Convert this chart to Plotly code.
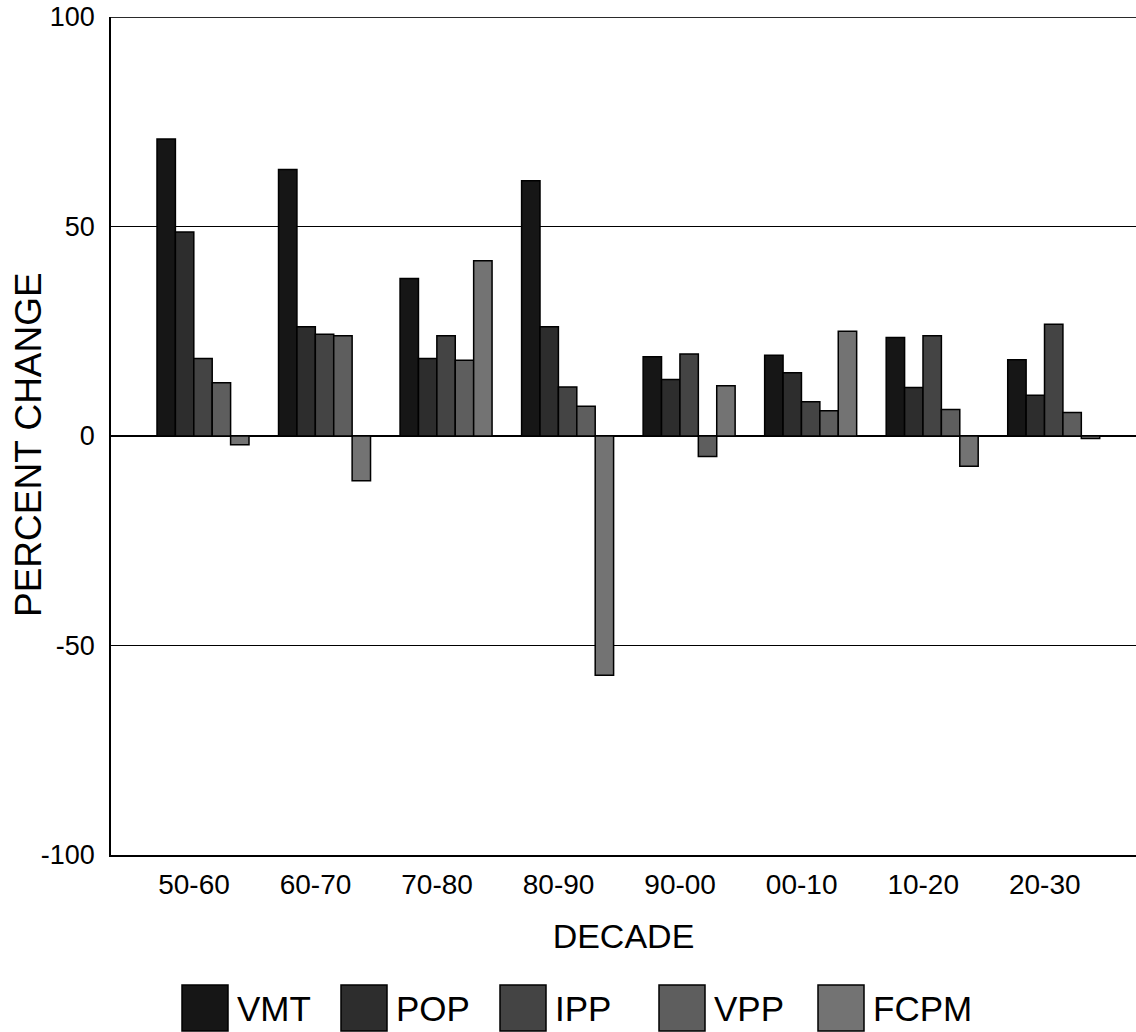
import plotly.graph_objects as go

decades = ["50-60", "60-70", "70-80", "80-90", "90-00", "00-10", "10-20", "20-30"]
series_names = ["VMT", "POP", "IPP", "VPP", "FCPM"]
vmt = [70.9, 63.6, 37.6, 60.9, 18.9, 19.3, 23.5, 18.2]
pop = [48.7, 26.1, 18.5, 26.1, 13.5, 15.1, 11.6, 9.7]
ipp = [18.5, 24.3, 23.9, 11.7, 19.6, 8.2, 23.9, 26.7]
vpp = [12.7, 23.9, 18.1, 7.1, -4.9, 6.0, 6.3, 5.6]
fcpm = [-2.1, -10.7, 41.8, -57.1, 12.0, 25.0, -7.2, -0.6]
series_values = [vmt, pop, ipp, vpp, fcpm]
colors = ["#161616", "#2d2d2d", "#444444", "#5e5e5e", "#737373"]
y_ticks = [-100, -50, 0, 50, 100]
y_tick_labels = ["-100", "-50", "0", "50", "100"]
y_title = "PERCENT CHANGE"
x_title = "DECADE"

FONT = "Liberation Sans, Arial, sans-serif"

fig = go.Figure()
for name, vals, col in zip(series_names, series_values, colors):
    fig.add_trace(go.Bar(
        x=decades, y=vals, name=name,
        marker=dict(color=col, line=dict(color="#000000", width=1.5)),
        showlegend=False,
    ))

# top frame line at the upper end of the y range
fig.add_shape(type="line", xref="paper", yref="y", x0=0, x1=1,
              y0=y_ticks[-1], y1=y_ticks[-1],
              line=dict(color="#2a2a2a", width=2))

# page-pixel layout converted to paper coords
PL, PR, PT, PB = 111, 1136, 17, 855

# y-axis title as rotated annotation
fig.add_annotation(xref="paper", yref="paper",
                   x=(29 - PL) / (PR - PL), y=(PB - 445) / (PB - PT),
                   text=y_title, textangle=-90, showarrow=False,
                   xanchor="center", yanchor="middle",
                   font=dict(family=FONT, size=37, color="#000000"))

# Manual legend with large swatches
leg_x0 = 182
leg_step = 159
sq = 46
for i, (name, col) in enumerate(zip(series_names, colors)):
    x0 = leg_x0 + i * leg_step
    fig.add_shape(type="rect", xref="paper", yref="paper",
                  x0=(x0 - PL) / (PR - PL), x1=(x0 + sq - PL) / (PR - PL),
                  y0=-(985 + sq - PB) / (PB - PT), y1=-(985 - PB) / (PB - PT),
                  fillcolor=col, line=dict(color="#000000", width=1.5))
    fig.add_annotation(xref="paper", yref="paper",
                       x=(x0 + sq + 7 - PL) / (PR - PL),
                       y=-(1008 - PB) / (PB - PT),
                       text=name, showarrow=False, xanchor="left", yanchor="middle",
                       font=dict(family=FONT, size=35, color="#000000"))

fig.update_layout(
    width=1136, height=1032,
    margin=dict(l=PL, r=0, t=PT, b=1032 - PB),
    paper_bgcolor="white", plot_bgcolor="white",
    barmode="group", bargap=0.243, bargroupgap=0,
    font=dict(family=FONT, color="#000000"),
)
fig.update_xaxes(
    type="category", range=[-0.757, 7.677], automargin=False,
    showline=True, linecolor="#000000", linewidth=1.5,
    showgrid=False, ticks="", ticklabelshift=-9, ticklabelstandoff=4,
    tickfont=dict(size=28, family=FONT),
    title=dict(text=x_title, font=dict(size=34, family=FONT), standoff=25),
)
fig.update_yaxes(
    range=[-100, 100], tickvals=y_ticks, ticktext=y_tick_labels, automargin=False,
    showline=True, linecolor="#000000", linewidth=1.5,
    showgrid=True, gridcolor="#000000", gridwidth=1,
    zeroline=True, zerolinecolor="#000000", zerolinewidth=2,
    ticks="", ticklabelstandoff=9, ticklabeloverflow="allow",
    tickfont=dict(size=27, family=FONT),
)

fig.write_html("out.html", config={"displayModeBar": False},
               post_script="document.body.style.margin='0';document.body.style.overflow='hidden';")
